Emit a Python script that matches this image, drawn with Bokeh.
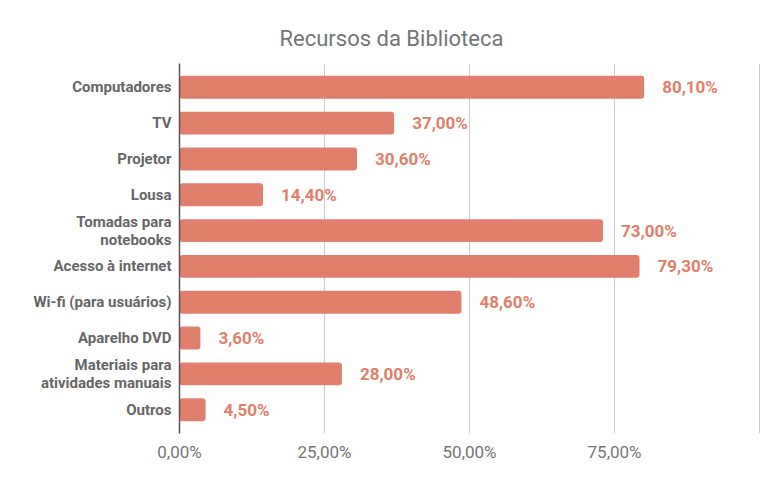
from bokeh.plotting import figure
from bokeh.models import ColumnDataSource, FactorRange, FixedTicker, Range1d
from bokeh.core.properties import value
from bokeh.embed import file_html
from bokeh.resources import INLINE

categories = ["Computadores", "TV", "Projetor", "Lousa", "Tomadas para\nnotebooks",
              "Acesso à internet", "Wi-fi (para usuários)", "Aparelho DVD",
              "Materiais para\natividades manuais", "Outros"]
values = [80.1, 37.0, 30.6, 14.4, 73.0, 79.3, 48.6, 3.6, 28.0, 4.5]
labels = ["80,10%", "37,00%", "30,60%", "14,40%", "73,00%", "79,30%", "48,60%", "3,60%", "28,00%", "4,50%"]
x_ticks = [0, 25, 50, 75, 100]
x_tick_labels = {0: "0,00%", 25: "25,00%", 50: "50,00%", 75: "75,00%", 100: ""}
title_text = "Recursos da Biblioteca"

BAR = "#E07F6C"

src = ColumnDataSource(dict(cat=categories, val=values, lab=labels))

p = figure(width=776, height=477, output_backend="svg", toolbar_location=None,
           y_range=FactorRange(factors=list(reversed(categories))),
           x_range=Range1d(0, 100.5),
           min_border_left=179, min_border_right=14, min_border_top=63, min_border_bottom=44)

p.hbar(y="cat", right="val", left=0, height=0.64, source=src, color=BAR,
       line_color=None, border_radius=3)
p.text(x="val", y="cat", text="lab", source=src, x_offset=18,
       text_baseline="middle", text_align="left", text_color=BAR,
       text_font=value("Roboto"), text_font_style="bold", text_font_size="17px")

p.title.text = title_text
p.title.align = "left"
p.title.offset = 100
p.title.standoff = 26
p.title.text_font = "Roboto"
p.title.text_font_style = "normal"
p.title.text_font_size = "22px"
p.title.text_color = "#757575"

p.outline_line_color = None
p.ygrid.grid_line_color = None
p.xgrid.grid_line_color = "#cccccc"
p.xgrid.ticker = FixedTicker(ticks=[25, 50, 75, 100])

p.xaxis.ticker = FixedTicker(ticks=x_ticks)
p.xaxis.major_label_overrides = x_tick_labels
p.xaxis.axis_line_color = None
p.xaxis.major_tick_line_color = None
p.xaxis.minor_tick_line_color = None
p.xaxis.major_label_text_font = "Roboto"
p.xaxis.major_label_text_font_size = "17px"
p.xaxis.major_label_text_color = "#757575"
p.xaxis.major_label_standoff = 2

p.yaxis.axis_line_color = "#555555"
p.yaxis.axis_line_width = 1.5
p.yaxis.major_tick_line_color = None
p.yaxis.minor_tick_line_color = None
p.yaxis.major_label_text_font = "Roboto"
p.yaxis.major_label_text_font_style = "bold"
p.yaxis.major_label_text_font_size = "15px"
p.yaxis.major_label_text_line_height = 1.0
p.yaxis.major_label_text_color = "#666666"
p.yaxis.major_label_standoff = 2

p.y_range.range_padding = 0.165
p.y_range.range_padding_units = "absolute"
p.y_range.factor_padding = 0

open("out.html", "w").write(file_html(p, INLINE))
